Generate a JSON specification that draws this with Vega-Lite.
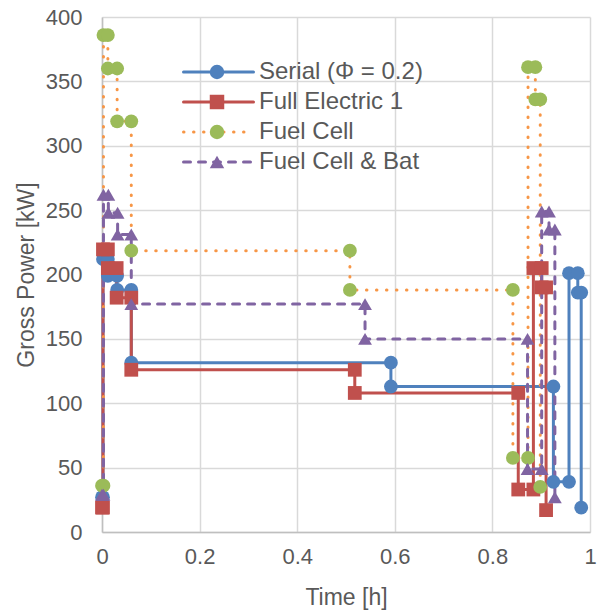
{
  "$schema": "https://vega.github.io/schema/vega-lite/v6.json",
  "width": 488,
  "height": 515,
  "autosize": {"type": "none"},
  "padding": {"left": 102, "top": 17, "right": 10, "bottom": 83},
  "background": "white",
  "config": {
    "view": {"stroke": null},
    "font": "Liberation Sans",
    "axis": {
      "labelFontSize": 22, "labelColor": "#595959", "labelFont": "Liberation Sans",
      "titleFontSize": 23, "titleColor": "#595959", "titleFontWeight": "normal", "titleFont": "Liberation Sans",
      "gridColor": "#D9D9D9", "gridWidth": 1.5,
      "domainColor": "#BFBFBF", "domainWidth": 1.5,
      "ticks": false, "labelFlush": false
    }
  },
  "data": {
    "values": [
      {"s": "Serial (Φ = 0.2)", "k": "Serial (Φ = 0.2)", "i": 1, "t": 0.0, "p": 27},
      {"s": "Serial (Φ = 0.2)", "k": "Serial (Φ = 0.2)", "i": 2, "t": 0.002, "p": 27},
      {"s": "Serial (Φ = 0.2)", "k": "Serial (Φ = 0.2)", "i": 3, "t": 0.002, "p": 212},
      {"s": "Serial (Φ = 0.2)", "k": "Serial (Φ = 0.2)", "i": 4, "t": 0.012, "p": 212},
      {"s": "Serial (Φ = 0.2)", "k": "Serial (Φ = 0.2)", "i": 5, "t": 0.012, "p": 199},
      {"s": "Serial (Φ = 0.2)", "k": "Serial (Φ = 0.2)", "i": 6, "t": 0.031, "p": 199},
      {"s": "Serial (Φ = 0.2)", "k": "Serial (Φ = 0.2)", "i": 7, "t": 0.031, "p": 188},
      {"s": "Serial (Φ = 0.2)", "k": "Serial (Φ = 0.2)", "i": 8, "t": 0.06, "p": 188},
      {"s": "Serial (Φ = 0.2)", "k": "Serial (Φ = 0.2)", "i": 9, "t": 0.06, "p": 131.5},
      {"s": "Serial (Φ = 0.2)", "k": "Serial (Φ = 0.2)", "i": 10, "t": 0.592, "p": 131.5},
      {"s": "Serial (Φ = 0.2)", "k": "Serial (Φ = 0.2)", "i": 11, "t": 0.592, "p": 113},
      {"s": "Serial (Φ = 0.2)", "k": "Serial (Φ = 0.2)", "i": 12, "t": 0.925, "p": 113},
      {"s": "Serial (Φ = 0.2)", "k": "Serial (Φ = 0.2)", "i": 13, "t": 0.925, "p": 39},
      {"s": "Serial (Φ = 0.2)", "k": "Serial (Φ = 0.2)", "i": 14, "t": 0.957, "p": 39},
      {"s": "Serial (Φ = 0.2)", "k": "Serial (Φ = 0.2)", "i": 15, "t": 0.957, "p": 201},
      {"s": "Serial (Φ = 0.2)", "k": "Serial (Φ = 0.2)", "i": 16, "t": 0.975, "p": 201},
      {"s": "Serial (Φ = 0.2)", "k": "Serial (Φ = 0.2)", "i": 17, "t": 0.975, "p": 186},
      {"s": "Serial (Φ = 0.2)", "k": "Serial (Φ = 0.2)", "i": 18, "t": 0.982, "p": 186},
      {"s": "Serial (Φ = 0.2)", "k": "Serial (Φ = 0.2)", "i": 19, "t": 0.982, "p": 19},

      {"s": "Full Electric 1", "k": "Full Electric 1", "i": 1, "t": 0.0, "p": 19},
      {"s": "Full Electric 1", "k": "Full Electric 1", "i": 2, "t": 0.002, "p": 19},
      {"s": "Full Electric 1", "k": "Full Electric 1", "i": 3, "t": 0.002, "p": 219.5},
      {"s": "Full Electric 1", "k": "Full Electric 1", "i": 4, "t": 0.012, "p": 219.5},
      {"s": "Full Electric 1", "k": "Full Electric 1", "i": 5, "t": 0.012, "p": 205},
      {"s": "Full Electric 1", "k": "Full Electric 1", "i": 6, "t": 0.03, "p": 205},
      {"s": "Full Electric 1", "k": "Full Electric 1", "i": 7, "t": 0.03, "p": 182},
      {"s": "Full Electric 1", "k": "Full Electric 1", "i": 8, "t": 0.06, "p": 182},
      {"s": "Full Electric 1", "k": "Full Electric 1", "i": 9, "t": 0.06, "p": 126},
      {"s": "Full Electric 1", "k": "Full Electric 1", "i": 10, "t": 0.518, "p": 126},
      {"s": "Full Electric 1", "k": "Full Electric 1", "i": 11, "t": 0.518, "p": 108},
      {"s": "Full Electric 1", "k": "Full Electric 1", "i": 12, "t": 0.853, "p": 108},
      {"s": "Full Electric 1", "k": "Full Electric 1", "i": 13, "t": 0.853, "p": 33},
      {"s": "Full Electric 1", "k": "Full Electric 1", "i": 14, "t": 0.884, "p": 33},
      {"s": "Full Electric 1", "k": "Full Electric 1", "i": 15, "t": 0.884, "p": 205},
      {"s": "Full Electric 1", "k": "Full Electric 1", "i": 16, "t": 0.901, "p": 205},
      {"s": "Full Electric 1", "k": "Full Electric 1", "i": 17, "t": 0.901, "p": 190},
      {"s": "Full Electric 1", "k": "Full Electric 1", "i": 18, "t": 0.91, "p": 190},
      {"s": "Full Electric 1", "k": "Full Electric 1", "i": 19, "t": 0.91, "p": 17},

      {"s": "Fuel Cell", "k": "Fuel Cell", "i": 1, "t": 0.0, "p": 36},
      {"s": "Fuel Cell", "k": "Fuel Cell", "i": 2, "t": 0.003, "p": 36},
      {"s": "Fuel Cell", "k": "Fuel Cell", "i": 3, "t": 0.003, "p": 386},
      {"s": "Fuel Cell", "k": "Fuel Cell", "i": 4, "t": 0.012, "p": 386},
      {"s": "Fuel Cell", "k": "Fuel Cell", "i": 5, "t": 0.012, "p": 360},
      {"s": "Fuel Cell", "k": "Fuel Cell", "i": 6, "t": 0.031, "p": 360},
      {"s": "Fuel Cell", "k": "Fuel Cell", "i": 7, "t": 0.031, "p": 319},
      {"s": "Fuel Cell", "k": "Fuel Cell", "i": 8, "t": 0.06, "p": 319},
      {"s": "Fuel Cell", "k": "Fuel Cell", "i": 9, "t": 0.06, "p": 218.5},
      {"s": "Fuel Cell", "k": "Fuel Cell", "i": 10, "t": 0.508, "p": 218.5},
      {"s": "Fuel Cell", "k": "Fuel Cell", "i": 11, "t": 0.508, "p": 188},
      {"s": "Fuel Cell", "k": "Fuel Cell", "i": 12, "t": 0.842, "p": 188},
      {"s": "Fuel Cell", "k": "Fuel Cell", "i": 13, "t": 0.842, "p": 57.5},
      {"s": "Fuel Cell", "k": "Fuel Cell", "i": 14, "t": 0.873, "p": 57.5},
      {"s": "Fuel Cell", "k": "Fuel Cell", "i": 15, "t": 0.873, "p": 361},
      {"s": "Fuel Cell", "k": "Fuel Cell", "i": 16, "t": 0.888, "p": 361},
      {"s": "Fuel Cell", "k": "Fuel Cell", "i": 17, "t": 0.888, "p": 336},
      {"s": "Fuel Cell", "k": "Fuel Cell", "i": 18, "t": 0.898, "p": 336},
      {"s": "Fuel Cell", "k": "Fuel Cell", "i": 19, "t": 0.898, "p": 35},

      {"s": "Fuel Cell & Bat", "k": "Fuel Cell & Bat", "i": 1, "t": 0.0, "p": 29},
      {"s": "Fuel Cell & Bat", "k": "Fuel Cell & Bat", "i": 2, "t": 0.003, "p": 29},
      {"s": "Fuel Cell & Bat", "k": "Fuel Cell & Bat", "i": 3, "t": 0.003, "p": 262},
      {"s": "Fuel Cell & Bat", "k": "Fuel Cell & Bat", "i": 4, "t": 0.013, "p": 262},
      {"s": "Fuel Cell & Bat", "k": "Fuel Cell & Bat", "i": 5, "t": 0.013, "p": 248},
      {"s": "Fuel Cell & Bat", "k": "Fuel Cell & Bat", "i": 6, "t": 0.032, "p": 248},
      {"s": "Fuel Cell & Bat", "k": "Fuel Cell & Bat", "i": 7, "t": 0.032, "p": 231},
      {"s": "Fuel Cell & Bat", "k": "Fuel Cell & Bat", "i": 8, "t": 0.06, "p": 231},
      {"s": "Fuel Cell & Bat", "k": "Fuel Cell & Bat", "i": 9, "t": 0.06, "p": 177},
      {"s": "Fuel Cell & Bat", "k": "Fuel Cell & Bat", "i": 10, "t": 0.539, "p": 177},
      {"s": "Fuel Cell & Bat", "k": "Fuel Cell & Bat", "i": 11, "t": 0.539, "p": 150},
      {"s": "Fuel Cell & Bat", "k": "Fuel Cell & Bat", "i": 12, "t": 0.872, "p": 150},
      {"s": "Fuel Cell & Bat", "k": "Fuel Cell & Bat", "i": 13, "t": 0.872, "p": 49},
      {"s": "Fuel Cell & Bat", "k": "Fuel Cell & Bat", "i": 14, "t": 0.901, "p": 49},
      {"s": "Fuel Cell & Bat", "k": "Fuel Cell & Bat", "i": 15, "t": 0.901, "p": 249},
      {"s": "Fuel Cell & Bat", "k": "Fuel Cell & Bat", "i": 16, "t": 0.916, "p": 249},
      {"s": "Fuel Cell & Bat", "k": "Fuel Cell & Bat", "i": 17, "t": 0.916, "p": 235},
      {"s": "Fuel Cell & Bat", "k": "Fuel Cell & Bat", "i": 18, "t": 0.928, "p": 235},
      {"s": "Fuel Cell & Bat", "k": "Fuel Cell & Bat", "i": 19, "t": 0.928, "p": 27}
    ]
  },
  "encoding": {
    "x": {"field": "t", "type": "quantitative", "scale": {"domain": [0, 1]},
      "axis": {"title": "Time [h]", "values": [0, 0.2, 0.4, 0.6, 0.8, 1], "format": "~g", "labelPadding": 14, "titlePadding": 19}},
    "y": {"field": "p", "type": "quantitative", "scale": {"domain": [0, 400]},
      "axis": {"title": "Gross Power [kW]", "values": [0, 50, 100, 150, 200, 250, 300, 350, 400], "labelPadding": 20, "titlePadding": 7}}
  },
  "layer": [
    {
      "mark": {"type": "line", "strokeWidth": 3, "strokeCap": "round"},
      "encoding": {
        "order": {"field": "i", "type": "quantitative"},
        "color": {"field": "s", "type": "nominal",
          "scale": {"domain": ["Serial (Φ = 0.2)", "Full Electric 1", "Fuel Cell", "Fuel Cell & Bat"],
                    "range": ["#4F81BD", "#C0504D", "#F79646", "#8064A2"]},
          "legend": {"orient": "none", "legendX": 80, "legendY": 40, "title": null, "padding": 0,
            "symbolType": "stroke", "symbolSize": 4900, "symbolStrokeWidth": 3,
            "clipHeight": 30, "rowPadding": 0, "labelOffset": 4, "labelLimit": 400,
            "labelFontSize": 24, "labelColor": "#595959", "labelFont": "Liberation Sans",
            "encode": {"symbols": {"update": {"strokeCap": {"value": "round"}}}}}},
        "strokeDash": {"field": "s", "type": "nominal",
          "scale": {"domain": ["Serial (Φ = 0.2)", "Full Electric 1", "Fuel Cell", "Fuel Cell & Bat"],
                    "range": [[1, 0], [1, 0], [0.5, 9.5], [7, 8]]}}
      }
    },
    {
      "mark": {"type": "point", "filled": true, "opacity": 1, "size": 190, "strokeWidth": 0},
      "encoding": {
        "fill": {"field": "k", "type": "nominal", "sort": null,
          "scale": {"range": ["#4F81BD", "#C0504D", "#9BBB59", "#8064A2"]},
          "legend": {"orient": "none", "legendX": 105, "legendY": 40, "title": null, "padding": 0,
            "symbolSize": 210, "symbolStrokeWidth": 0, "symbolOpacity": 1,
            "clipHeight": 30, "rowPadding": 0, "labelExpr": "''", "labelFontSize": 20}},
        "shape": {"field": "k", "type": "nominal", "sort": null,
          "scale": {"range": ["circle", "square", "circle", "triangle-up"]}}
      }
    }
  ]
}
